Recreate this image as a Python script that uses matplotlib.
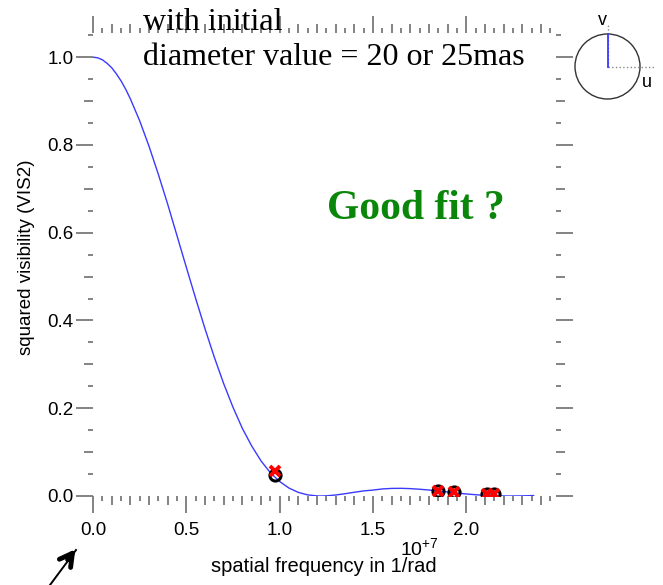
import numpy as np
import matplotlib
matplotlib.use("Agg")
import matplotlib.pyplot as plt
from matplotlib.patches import Circle

# model curve, squared visibility vs spatial frequency (units of 1e7 /rad)
model_freq = [0.00, 0.025, 0.05, 0.075, 0.10, 0.125, 0.15, 0.175, 0.20, 0.25,
              0.30, 0.35, 0.40, 0.45, 0.50, 0.55, 0.60, 0.65, 0.70, 0.75,
              0.80, 0.85, 0.90, 0.95, 1.00, 1.05, 1.10, 1.15, 1.20, 1.22,
              1.25, 1.30, 1.35, 1.40, 1.45, 1.50, 1.55, 1.60, 1.65, 1.70,
              1.75, 1.80, 1.85, 1.90, 1.95, 2.00, 2.05, 2.10, 2.15, 2.20,
              2.23, 2.25, 2.30, 2.36]
model_vis2 = [1.000, 0.9985, 0.994, 0.986, 0.976, 0.962, 0.946, 0.927, 0.905, 0.855,
              0.797, 0.733, 0.665, 0.593, 0.521, 0.450, 0.381, 0.316, 0.256, 0.202,
              0.154, 0.114, 0.080, 0.053, 0.033, 0.018, 0.0082, 0.0025, 0.0002, 0.0,
              0.0004, 0.0023, 0.0052, 0.0085, 0.0116, 0.0135, 0.0161, 0.0173, 0.0175, 0.0168,
              0.0154, 0.0136, 0.0114, 0.0091, 0.0067, 0.0046, 0.0029, 0.0014, 0.0006, 0.0001,
              0.0, 0.00002, 0.0003, 0.0010]

# observed points and model values at the same baselines
obs_freq = [0.976, 1.846, 1.932, 2.112, 2.150]
obs_vis2 = [0.048, 0.012, 0.010, 0.004, 0.004]
fit_vis2 = [0.056, 0.012, 0.010, 0.004, 0.004]

x_major = [0.0, 0.5, 1.0, 1.5, 2.0]
x_major_labels = ["0.0", "0.5", "1.0", "1.5", "2.0"]
x_medium = [0.1, 0.2, 0.3, 0.4, 0.6, 0.7, 0.8, 0.9, 1.1, 1.2, 1.3, 1.4,
            1.6, 1.7, 1.8, 1.9, 2.1, 2.2, 2.3, 2.4]
x_short = [0.05, 0.15, 0.25, 0.35, 0.45, 0.55, 0.65, 0.75, 0.85, 0.95, 1.05, 1.15,
           1.25, 1.35, 1.45, 1.55, 1.65, 1.75, 1.85, 1.95, 2.05, 2.15, 2.25, 2.35, 2.45]
y_major = [0.0, 0.2, 0.4, 0.6, 0.8, 1.0]
y_major_labels = ["0.0", "0.2", "0.4", "0.6", "0.8", "1.0"]
y_medium = [0.1, 0.3, 0.5, 0.7, 0.9]
y_short = [0.05, 0.15, 0.25, 0.35, 0.45, 0.55, 0.65, 0.75, 0.85, 0.95, 1.05]

plt.rcParams["font.family"] = ["Liberation Sans", "DejaVu Sans"]
plt.rcParams["mathtext.fontset"] = "custom"
plt.rcParams["mathtext.rm"] = "Liberation Sans"

W, H = 663, 585
fig = plt.figure(figsize=(W / 100, H / 100), dpi=100)
ax = fig.add_axes([93 / W, 1 - 496 / H, (556 - 93) / W, (496 - 33) / H])

TICK = "#6e6e6e"
ax.plot(model_freq, model_vis2, color="#3a3aff", lw=1.0, zorder=2)
ax.plot(obs_freq, obs_vis2, "o", ms=8, mfc="none", mec="black", mew=2.2, zorder=3)
ax.plot(obs_freq, fit_vis2, "x", ms=7, color="red", mew=2.8, zorder=4)

ax.set_xlim(0, 2.48)
ax.set_ylim(0, 1.055)
for s in ax.spines.values():
    s.set_visible(False)

ax.set_xticks(x_major, x_major_labels)
ax.set_xticks(x_medium, minor=True)
ax.set_yticks(y_major, y_major_labels)
ax.set_yticks(y_medium, minor=True)
ax.tick_params(which="both", direction="out", color=TICK, width=1.2,
               top=True, right=True, labelsize=13.5)
ax.tick_params(which="major", length=12)
ax.tick_params(which="minor", length=6.5)
ax.tick_params(axis="x", which="major", pad=7)
ax.tick_params(axis="y", which="major", pad=2)

# short ticks on all four sides
for loc in ("bottom", "top"):
    sec = ax.secondary_xaxis(loc)
    sec.set_xticks(x_short, [""] * len(x_short))
    sec.tick_params(length=3.5, width=1.2, color=TICK, direction="out")
    for s in sec.spines.values():
        s.set_visible(False)
for loc in ("left", "right"):
    sec = ax.secondary_yaxis(loc)
    sec.set_yticks(y_short, [""] * len(y_short))
    sec.tick_params(length=3.5, width=1.2, color=TICK, direction="out")
    for s in sec.spines.values():
        s.set_visible(False)

fig.text(324 / W, 1 - 567 / H, "spatial frequency in 1/rad", fontsize=14.5,
         ha="center", va="center")
fig.text(400 / W, 1 - 555 / H, r"$\mathregular{10^{+7}}$", fontsize=14,
         ha="left", va="baseline")
fig.text(27 / W, 1 - 257 / H, "squared visibility (VIS2)", fontsize=13.5,
         rotation=90, ha="center", va="center")

serif = ["Liberation Serif", "DejaVu Serif"]
fig.text(143 / W, 1 - 30 / H, "with initial", family=serif, fontsize=23,
         va="baseline")
fig.text(143 / W, 1 - 65 / H, "diameter value = 20 or 25mas", family=serif,
         fontsize=23, va="baseline")
fig.text(327 / W, 1 - 219 / H, "Good fit ?", family=serif, fontsize=30,
         fontweight="bold", color="#0a870a", va="baseline")

# uv-plane inset
uv = fig.add_axes([557.5 / W, 1 - 116.5 / H, 100 / W, 100 / H])
uv.set_xlim(-1.538, 1.538)
uv.set_ylim(-1.538, 1.538)
uv.axis("off")
uv.add_patch(Circle((0, 0), 1.0, fill=False, ec="#333333", lw=1.0))
uv.plot([0, 1.42], [0, 0], ls=":", color="#888888", lw=1.0, clip_on=False)
uv.plot([0, 0], [0, 1.28], ls=":", color="#888888", lw=1.0, clip_on=False)
uv.plot([0, 0], [0, 1.0], color="#3a3aff", lw=1.3)
uv.text(-0.17, 1.43, "v", fontsize=13, ha="center", va="center", clip_on=False)
uv.text(1.2, -0.5, "u", fontsize=13, ha="center", va="center", clip_on=False)

# arrow pointing at the origin
fig.add_artist(plt.Line2D([50 / W, 76 / W], [1 - 585 / H, 1 - 550 / H],
                          color="black", lw=1.4))
ax.annotate("", xy=(77 / W, 1 - 547 / H), xytext=(66 / W, 1 - 562 / H),
            xycoords="figure fraction", textcoords="figure fraction",
            arrowprops=dict(arrowstyle="->,head_length=0.9,head_width=0.5",
                            color="black", lw=3.5))

fig.savefig("out.png", dpi=100)
